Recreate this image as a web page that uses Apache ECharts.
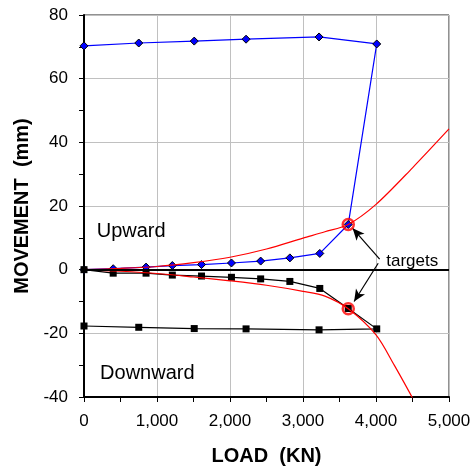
<!DOCTYPE html>
<html>
<head>
<meta charset="utf-8">
<script src="https://cdn.jsdelivr.net/npm/echarts@6/dist/echarts.min.js"></script>
<style>
html, body { margin: 0; padding: 0; background: #fff; }
#movement_chart { width: 474px; height: 468px; }
</style>
</head>
<body>
<div id="movement_chart"></div>
<script>
// 向上位移：加载段 + 卸载段
var upwardLoad = [0, 400, 850, 1210, 1610, 2020, 2420, 2820, 3230, 3620, 4010, 3220, 2220, 1510, 750, 0];
var upwardMove = [0, 0.3, 0.8, 1.3, 1.6, 2.1, 2.7, 3.7, 5.1, 14.2, 70.9, 73.1, 72.4, 71.8, 71.2, 70.3];
// 向下位移
var downwardLoad = [0, 400, 850, 1210, 1610, 2020, 2420, 2820, 3230, 3620, 4010, 3220, 2220, 1510, 750, 0];
var downwardMove = [0, -1.1, -1.1, -1.7, -2.0, -2.4, -2.9, -3.7, -5.9, -12.2, -18.6, -18.9, -18.6, -18.5, -18.1, -17.7];
// 预测曲线
var upperCurveLoad = [0, 500, 1000, 1500, 2000, 2500, 3000, 3300, 3620, 4000, 4500, 5000];
var upperCurveMove = [0, 0.4, 1.0, 2.2, 3.9, 6.5, 9.9, 11.9, 14.2, 20.5, 32.0, 44.2];
var lowerCurveLoad = [0, 500, 1000, 1500, 2000, 2500, 3000, 3300, 3620, 4000, 4250, 4500];
var lowerCurveMove = [0, -0.5, -1.2, -2.3, -3.5, -4.9, -6.8, -8.3, -12.3, -20.5, -30.0, -40.3];
// 目标点
var targetLoad = [3620, 3620];
var targetMove = [14.2, -12.3];

var font = "'Liberation Sans', Arial, sans-serif";

function toPairs(xs, ys) {
    var arr = [];
    for (var i = 0; i < xs.length; i++) {
        arr.push([xs[i], ys[i]]);
    }
    return arr;
}

function addCommas(v) {
    return String(v).replace(/\B(?=(\d{3})+(?!\d))/g, ',');
}

var movement_chart = {
    init : function() {
        var chart = echarts.init(document.getElementById('movement_chart'), null, { renderer : 'canvas' });
        var textLabel = function(text, size) {
            return {
                show : true,
                position : 'inside',
                align : 'left',
                verticalAlign : 'middle',
                formatter : text,
                color : '#000',
                fontSize : size,
                fontFamily : font
            };
        };
        var option = {
            animation : false,
            backgroundColor : '#fff',
            grid : {
                left : 84,
                right : 25,
                top : 15,
                bottom : 71,
                outerBoundsMode : 'none',
                containLabel : false,
                show : true,
                borderColor : '#222',
                borderWidth : 1
            },
            xAxis : {
                type : 'value',
                min : 0,
                max : 5000,
                interval : 1000,
                name : 'LOAD  (KN)',
                nameLocation : 'middle',
                nameGap : 49,
                nameTextStyle : { fontSize : 20, fontWeight : 'bold', color : '#000', fontFamily : font },
                axisLine : { onZero : false, lineStyle : { color : '#000', width : 2 } },
                axisTick : { show : true, inside : false, length : 5, lineStyle : { color : '#000' } },
                minorTick : { show : true, splitNumber : 2, length : 5, lineStyle : { color : '#000' } },
                axisLabel : { color : '#000', fontSize : 17, fontFamily : font, margin : 16, formatter : function(v) { return addCommas(v); } },
                splitLine : { show : true, lineStyle : { color : '#c0c0c0', width : 1 } }
            },
            yAxis : {
                type : 'value',
                min : -40,
                max : 80,
                interval : 20,
                name : 'MOVEMENT  (mm)',
                nameLocation : 'middle',
                nameGap : 52,
                nameTextStyle : { fontSize : 20, fontWeight : 'bold', color : '#000', fontFamily : font },
                axisLine : { onZero : false, lineStyle : { color : '#000', width : 2 } },
                axisTick : { show : true, inside : false, length : 5, lineStyle : { color : '#000' } },
                minorTick : { show : true, splitNumber : 2, length : 5, lineStyle : { color : '#000' } },
                axisLabel : { color : '#000', fontSize : 17, fontFamily : font, margin : 16 },
                splitLine : { show : true, lineStyle : { color : '#c0c0c0', width : 1 } }
            },
            series : [ {
                name : 'Upward',
                type : 'line',
                data : toPairs(upwardLoad, upwardMove),
                symbol : 'diamond',
                symbolSize : 8,
                itemStyle : { color : '#0000ff', borderColor : '#000', borderWidth : 1 },
                lineStyle : { color : '#0000ff', width : 1.2 },
                z : 3,
                markLine : {
                    silent : true,
                    symbol : 'none',
                    label : { show : false },
                    lineStyle : { color : '#000', width : 2, type : 'solid' },
                    data : [ { yAxis : 0 } ]
                }
            }, {
                name : 'Downward',
                type : 'line',
                data : toPairs(downwardLoad, downwardMove),
                symbol : 'rect',
                symbolSize : 7,
                itemStyle : { color : '#000' },
                lineStyle : { color : '#000', width : 1.2 },
                z : 3
            }, {
                name : 'Upper curve',
                type : 'line',
                data : toPairs(upperCurveLoad, upperCurveMove),
                smooth : 0.3,
                showSymbol : false,
                lineStyle : { color : '#ff0000', width : 1.2 },
                z : 4
            }, {
                name : 'Lower curve',
                type : 'line',
                data : toPairs(lowerCurveLoad, lowerCurveMove),
                smooth : 0.3,
                showSymbol : false,
                clip : true,
                lineStyle : { color : '#ff0000', width : 1.2 },
                z : 4
            }, {
                name : 'targets',
                type : 'scatter',
                data : toPairs(targetLoad, targetMove),
                symbol : 'circle',
                symbolSize : 11,
                itemStyle : { color : 'rgba(0,0,0,0)', borderColor : '#ff0000', borderWidth : 2.5 },
                z : 5,
                markLine : {
                    silent : true,
                    symbol : [ 'none', 'arrow' ],
                    symbolSize : [ 8, 12 ],
                    label : { show : false },
                    lineStyle : { color : '#000', width : 1.2, type : 'solid' },
                    data : [ [ { coord : [ 4050, 3.3 ] }, { coord : [ 3680, 13.0 ] } ], [ { coord : [ 4030, 2.0 ] }, { coord : [ 3700, -10.0 ] } ] ]
                },
                markPoint : {
                    silent : true,
                    symbol : 'rect',
                    symbolSize : 0,
                    data : [ {
                        coord : [ 4140, 2.5 ],
                        label : textLabel('targets', 17)
                    }, {
                        coord : [ 174, 12.0 ],
                        label : textLabel('Upward', 20)
                    }, {
                        coord : [ 220, -32.5 ],
                        label : textLabel('Downward', 20)
                    } ]
                }
            } ]
        };
        chart.setOption(option);
    }
};

movement_chart.init();
</script>
</body>
</html>
